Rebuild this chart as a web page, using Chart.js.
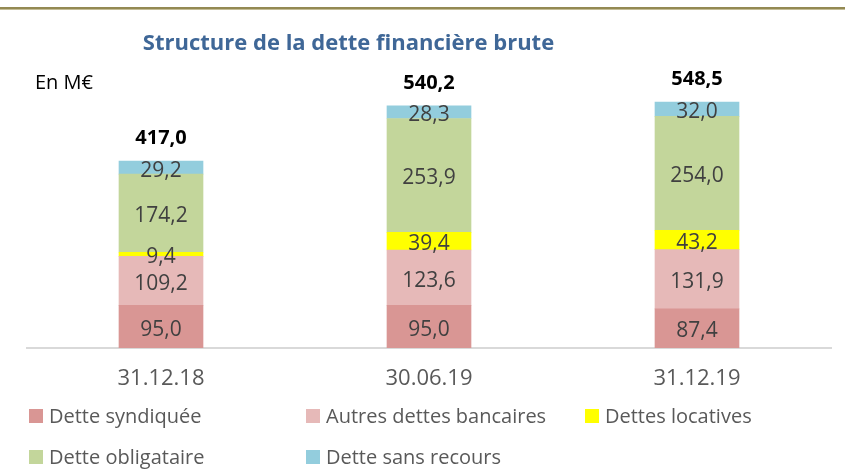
<!DOCTYPE html>
<html>
<head>
<meta charset="utf-8">
<script src="https://cdn.jsdelivr.net/npm/chart.js@4.4.1/dist/chart.umd.min.js"></script>
<style>
  html, body { margin: 0; padding: 0; background: #fff; }
  #wrap { width: 845px; height: 475px; position: relative; }
</style>
</head>
<body>
<div id="wrap"><canvas id="chart" width="845" height="475"></canvas></div>
<script>
// ================= DATA =================
const categories = ["31.12.18", "30.06.19", "31.12.19"];

const detteSyndiquee = [95.0, 95.0, 87.4];
const autresDettesBancaires = [109.2, 123.6, 131.9];
const dettesLocatives = [9.4, 39.4, 43.2];
const detteObligataire = [174.2, 253.9, 254.0];
const detteSansRecours = [29.2, 28.3, 32.0];

const seriesNames = ["Dette syndiquée", "Autres dettes bancaires", "Dettes locatives", "Dette obligataire", "Dette sans recours"];
const seriesColors = ["#D99694", "#E6B9B8", "#FFFF00", "#C3D69B", "#93CDDD"];

const chartTitle = "Structure de la dette financière brute";
const unitLabel = "En M€";

// ================= HELPERS =================
const fmt = (v) => v.toFixed(1).replace(".", ",");

const seriesValues = [detteSyndiquee, autresDettesBancaires, dettesLocatives, detteObligataire, detteSansRecours];
const totals = categories.map((_, i) => seriesValues.reduce((s, arr) => s + arr[i], 0));

// ================= DECORATION PLUGIN =================
const decorPlugin = {
    id: "decor",
    beforeDraw(chart) {
        const ctx = chart.ctx;
        ctx.save();
        ctx.fillStyle = "#fff";
        ctx.fillRect(0, 0, chart.width, chart.height);
        // top rule
        ctx.fillStyle = "#938953";
        ctx.fillRect(0, 7, chart.width, 2);
        ctx.fillStyle = "#C4BD97";
        ctx.fillRect(0, 9, chart.width, 1);
        ctx.restore();
    },
    afterDatasetsDraw(chart) {
        const ctx = chart.ctx;
        const yScale = chart.scales.y;
        ctx.save();

        // segment labels
        ctx.font = "21px 'Open Sans'";
        ctx.fillStyle = "#404040";
        ctx.textAlign = "center";
        ctx.textBaseline = "alphabetic";
        chart.data.datasets.forEach((ds, di) => {
            const meta = chart.getDatasetMeta(di);
            meta.data.forEach((bar, i) => {
                const cy = (bar.y + bar.base) / 2;
                ctx.fillText(fmt(ds.data[i]), bar.x, cy + 9);
            });
        });

        // totals
        ctx.font = "bold 20px 'Open Sans'";
        ctx.fillStyle = "#000";
        const meta0 = chart.getDatasetMeta(0);
        totals.forEach((t, i) => {
            const x = meta0.data[i].x;
            ctx.fillText(fmt(t), x, yScale.getPixelForValue(t) - 17);
        });

        // title
        ctx.font = "bold 22px 'Open Sans'";
        ctx.fillStyle = "#3F6797";
        ctx.fillText(chartTitle, 348.5, 50);

        // unit
        ctx.font = "20px 'Open Sans'";
        ctx.fillStyle = "#000";
        ctx.textAlign = "left";
        ctx.fillText(unitLabel, 35, 89);

        // legend
        const colX = [29, 306, 585];
        const rowY = [409, 450];
        ctx.font = "20px 'Open Sans'";
        ctx.fillStyle = "#595959";
        seriesNames.forEach((name, i) => {
            const x = colX[i % 3];
            const y = rowY[Math.floor(i / 3)];
            ctx.fillStyle = seriesColors[i];
            ctx.fillRect(x, y, 14, 14);
            ctx.fillStyle = "#595959";
            ctx.fillText(name, x + 20, y + 14);
        });

        ctx.restore();
    }
};

// ================= CHART =================
const ctx = document.getElementById("chart").getContext("2d");

new Chart(ctx, {
    type: "bar",
    data: {
        labels: categories,
        datasets: seriesNames.map((name, i) => ({
            label: name,
            data: seriesValues[i],
            backgroundColor: seriesColors[i],
            borderWidth: 0,
            barThickness: 84
        }))
    },
    plugins: [decorPlugin],
    options: {
        responsive: false,
        animation: false,
        devicePixelRatio: 1,
        layout: {
            padding: { left: 27, right: 14, top: 70, bottom: 64.6 }
        },
        plugins: {
            legend: { display: false },
            title: { display: false },
            tooltip: { enabled: false }
        },
        scales: {
            x: {
                stacked: true,
                grid: { display: false, drawTicks: false },
                border: { display: true, color: "#D9D9D9", width: 2 },
                ticks: {
                    padding: 18,
                    color: "#595959",
                    font: { family: "'Open Sans'", size: 22 }
                }
            },
            y: {
                stacked: true,
                display: false,
                min: 0,
                max: 620
            }
        }
    }
});
</script>
</body>
</html>
